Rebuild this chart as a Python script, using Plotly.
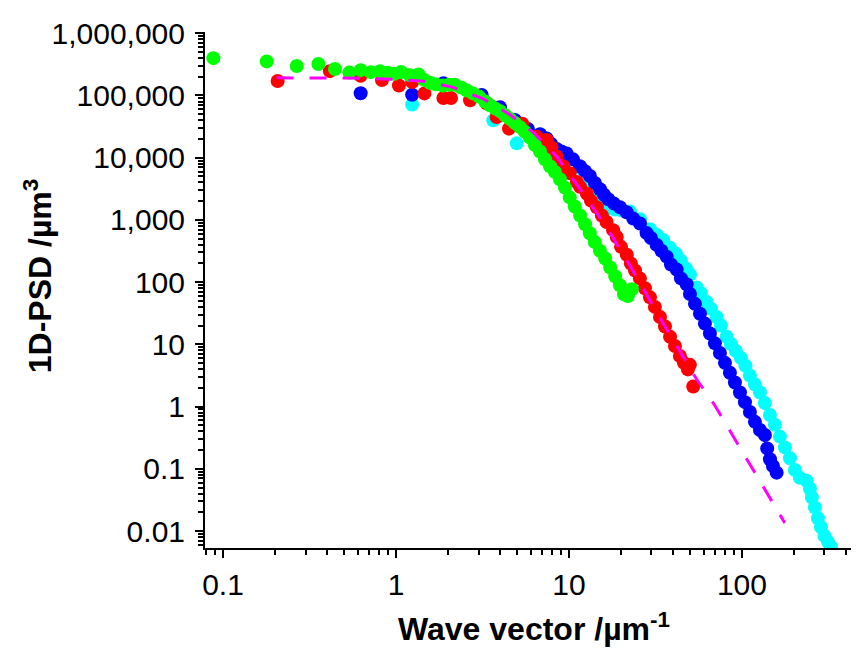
import plotly.graph_objects as go

# ---------------- data ----------------
green_x = [0.088, 0.179, 0.267, 0.356, 0.444, 0.537, 0.625, 0.714, 0.808, 0.895, 0.978, 1.07, 1.2, 1.35,
           1.45, 1.57, 1.7, 1.87, 2.03, 2.19, 2.38, 2.57, 2.79, 3.02, 3.27, 3.49, 3.74, 3.99, 4.27, 4.56,
           4.87, 5.21, 5.57, 5.95, 6.36, 6.8, 7.27, 7.77, 8.3, 8.87, 9.48, 10.1, 10.8, 11.6, 12.4, 13.2,
           14.1, 15.1, 16.2, 17.3, 18.5, 19.7, 20.8, 21.9, 23.1]
green_y = [3.98e5, 3.53e5, 2.98e5, 3.2e5, 2.67e5, 2.33e5, 2.55e5, 2.37e5, 2.46e5, 2.31e5, 2.23e5, 2.39e5,
           2.12e5, 2.17e5, 1.79e5, 1.6e5, 1.51e5, 1.44e5, 1.49e5, 1.49e5, 1.34e5, 1.2e5, 1.08e5, 9.6e4,
           8.0e4, 6.95e4, 6.2e4, 5.6e4, 4.8e4, 4.2e4, 3.6e4, 3.1e4, 2.6e4, 2.1e4, 1.6e4, 1.26e4, 9.4e3,
           7.3e3, 5.9e3, 4.5e3, 3.3e3, 2.3e3, 1.64e3, 1.18e3, 850, 610, 440, 320, 240, 172, 124, 89, 64,
           60, 77]

red_x = [0.207, 0.415, 0.625, 0.83, 1.04, 1.24, 1.46, 1.88, 2.08, 2.68, 2.93, 3.34, 3.82, 4.5, 5.37,
         6.51, 7.43, 7.92, 8.49, 9.27, 10.1, 11.1, 11.6, 12.7, 13.4, 14.5, 15.5, 16.5, 18.0, 18.9, 20.0,
         21.6, 22.8, 24.1, 25.7, 27.5, 29.4, 31.4, 33.6, 35.9, 38.4, 41.0, 43.8, 46.2, 48.7, 50.0, 52.3]
red_y = [1.71e5, 2.46e5, 2.07e5, 1.77e5, 1.45e5, 1.65e5, 1.08e5, 9.1e4, 9.1e4, 8.4e4, 9.9e4, 7.5e4,
         4.5e4, 2.93e4, 3.52e4, 2.17e4, 1.93e4, 1.46e4, 1.05e4, 7.3e3, 5.65e3, 4.07e3, 3.4e3, 2.63e3,
         2.04e3, 1.6e3, 1.18e3, 927, 685, 531, 369, 276, 199, 154, 115, 80, 57, 40, 27.6, 19.4, 13.3,
         9.4, 6.5, 5.05, 3.96, 4.69, 2.11]

blue_x = [0.625, 1.24, 1.88, 3.13, 3.99, 4.87, 5.79, 6.8, 7.43, 7.87, 8.49, 9.05, 9.7, 10.55, 11.58,
          12.37, 13.22, 14.13, 15.11, 15.94, 16.87, 18.2, 19.72, 21.55, 23.53, 25.73, 28.12, 29.79,
          32.13, 34.25, 36.71, 38.88, 41.94, 44.41, 47.9, 50.05, 53.5, 57.2, 61.1, 65.3, 69.8, 74.6,
          79.8, 85.2, 91.1, 97.4, 104.1, 111.2, 118.9, 127.1, 135.8, 140.0, 145.2, 151.1, 158.7]
blue_y = [1.087e5, 1.026e5, 1.576e5, 1.018e5, 6.46e4, 4.03e4, 2.9e4, 2.38e4, 2.04e4, 1.68e4, 1.377e4,
          1.258e4, 1.169e4, 9.4e3, 7.29e3, 6.08e3, 5.07e3, 3.93e3, 3.12e3, 2.54e3, 2.15e3, 1.83e3,
          1.6e3, 1.33e3, 1.05e3, 874, 614, 512, 397, 319, 257, 192, 160, 115, 92.6, 64.4, 44.8, 31.1,
          21.6, 15.0, 10.4, 7.26, 5.05, 3.51, 2.44, 1.69, 1.18, 0.818, 0.569, 0.42, 0.35, 0.213, 0.143,
          0.111, 0.0868]

cyan_x = [1.24, 3.65, 4.99, 6.8, 7.77, 8.87, 10.13, 11.58, 13.22, 15.11, 16.52, 18.45, 20.25, 22.52,
          25.73, 29.39, 32.27, 35.09, 38.35, 41.55, 44.41, 47.46, 50.05, 54.7, 57.9, 62.5, 66.2, 71.4,
          75.6, 81.6, 86.4, 92.3, 98.7, 104.8, 111.2, 118.9, 127.1, 135.8, 145.2, 155.2, 165.8, 177.3,
          189.5, 202.5, 216.4, 236.6, 247.3, 253.9, 264.2, 275.0, 286.2, 300.0, 314.2, 327.0]
cyan_y = [7.13e4, 3.98e4, 1.7e4, 2.33e4, 1.62e4, 1.213e4, 9.75e3, 6.78e3, 4.22e3, 2.45e3, 1.508e3,
          1.47e3, 1.418e3, 1.368e3, 1.022e3, 710, 571, 476, 356, 286, 222, 166, 133, 82.2, 66.8, 48.1,
          37.3, 27.6, 20.1, 13.3, 10.1, 7.81, 6.05, 4.53, 3.15, 2.27, 1.69, 1.14, 0.734, 0.51, 0.33,
          0.221, 0.148, 0.0957, 0.0716, 0.0642, 0.048, 0.0346, 0.024, 0.0161, 0.0116, 0.00837,
          0.00673, 0.00561]

fit_x = [0.204, 0.415, 0.62, 0.965, 1.44, 2.14, 3.2, 4.56, 6.22, 8.49, 12.37, 16.87, 22.5, 34.35,
         54.7, 68.9, 106.5, 167.4, 177]
fit_y = [1.92e5, 1.92e5, 1.9e5, 1.82e5, 1.7e5, 1.35e5, 8.8e4, 4.9e4, 2.55e4, 1.05e4, 2.45e3, 690,
         185, 23.9, 2.75, 1.1, 0.141, 0.0175, 0.0135]

x_tickvals = [0.1, 1, 10, 100]
x_ticktext = ["0.1", "1", "10", "100"]
y_tickvals = [1e6, 1e5, 1e4, 1e3, 100, 10, 1, 0.1, 0.01]
y_ticktext = ["1,000,000", "100,000", "10,000", "1,000", "100", "10", "1", "0.1", "0.01"]

FONT = "Arial, 'Liberation Sans', sans-serif"

# the page body adds an 8 px offset; plot area should sit at x 205..858, y 24..548 on screen
OFF = 8
L, R, T, B = 205 - OFF, 859 - 858 + OFF, 24 - OFF, 651 - 548 + OFF
PW, PH = 859 - L - R, 651 - T - B

fig = go.Figure()
series = [
    (cyan_x, cyan_y, "#00FFFF"),
    (blue_x, blue_y, "#0000FF"),
    (red_x, red_y, "#FF0000"),
    (green_x, green_y, "#00FF00"),
]
for xs, ys, col in series:
    fig.add_trace(go.Scatter(x=xs, y=ys, mode="markers",
                             marker=dict(size=14, color=col, line=dict(width=0)),
                             showlegend=False))
fig.add_trace(go.Scatter(x=fit_x, y=fit_y, mode="lines",
                         line=dict(color="#FF00FF", width=3, dash="17px,16px"),
                         showlegend=False))

axis_common = dict(
    type="log", showgrid=False, zeroline=False, showline=True, linecolor="black", linewidth=2,
    ticks="outside", ticklen=8, tickwidth=1.5, tickcolor="black",
    tickfont=dict(family=FONT, size=30, color="black"),
    minor=dict(ticks="outside", ticklen=5, tickwidth=1.5, tickcolor="black", dtick="D1", showgrid=False),
    mirror=False,
)

fig.update_xaxes(range=[-1.104, 2.671], tickmode="array", tickvals=x_tickvals, ticktext=x_ticktext,
                 ticklabelstandoff=1, **axis_common)
fig.update_yaxes(range=[-2.272, 6.02], tickmode="array", tickvals=y_tickvals, ticktext=y_ticktext,
                 ticklabelstandoff=4, **axis_common)


def px_to_paper(xp, yp):
    # screen pixel -> paper fraction of plot area
    return ((xp - OFF) - L) / PW, 1 - ((yp - OFF) - T) / PH


yt_x, yt_y = px_to_paper(38, 272)
xt_x, xt_y = px_to_paper(534, 628)

fig.update_layout(
    width=859, height=651,
    margin=dict(l=L, r=R, t=T, b=B),
    paper_bgcolor="white", plot_bgcolor="white",
    font=dict(family=FONT, color="black"),
    annotations=[
        dict(text="1D-PSD /µm<sup>3</sup>", xref="paper", yref="paper",
             x=yt_x, y=yt_y, xanchor="center", yanchor="middle",
             textangle=-90, showarrow=False, font=dict(family=FONT, size=32, weight="bold", color="black")),
        dict(text="Wave vector /µm<sup>-1</sup>", xref="paper", yref="paper",
             x=xt_x, y=xt_y, xanchor="center", yanchor="middle",
             showarrow=False, font=dict(family=FONT, size=32, weight="bold", color="black")),
    ],
)

fig.write_html("out.html")
